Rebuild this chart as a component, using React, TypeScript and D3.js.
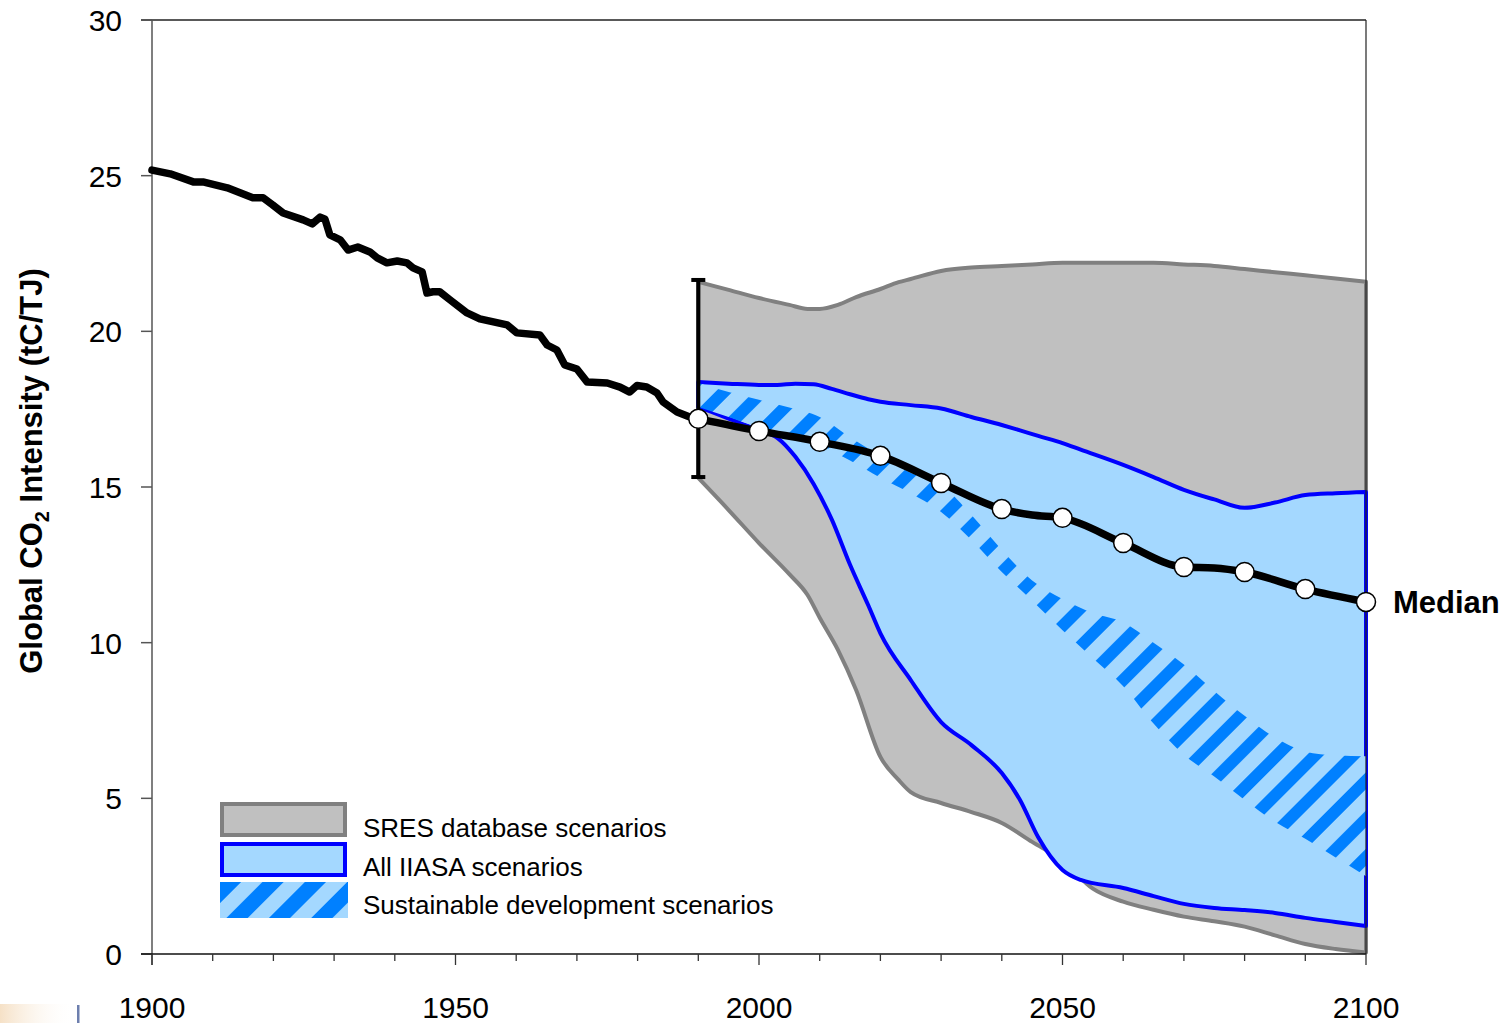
import React from 'react';
import * as d3 from 'd3';

const W = 1511;
const H = 1023;

// Axis ticks
const xMinorTicks = d3.range(1900, 2101, 10);
const xLabelYears = [1900, 1950, 2000, 2050, 2100];
const yTickValues = [0, 5, 10, 15, 20, 25, 30];

// Historical global CO2 intensity (tC/TJ), 1900-1990
const histYears = [
  1900, 1903, 1906.8, 1908.4, 1912.4, 1914.5, 1916.6, 1918.3, 1919.9, 1921.6,
  1924.9, 1926.4, 1927.7, 1928.5, 1929.3, 1931.0, 1932.3, 1933.9, 1935.9, 1937.1,
  1938.7, 1940.4, 1942.0, 1943.0, 1944.5, 1945.3, 1946.3, 1947.4, 1949.1, 1951.9,
  1954.0, 1958.5, 1960.1, 1963.9, 1965.1, 1966.7, 1968.0, 1970.0, 1971.7, 1975.0,
  1977.1, 1978.7, 1979.9, 1981.5, 1983.2, 1984.2, 1986.5, 1988.6, 1990,
];
const histValues = [
  25.18, 25.06, 24.8, 24.8, 24.61, 24.45, 24.29, 24.29, 24.06, 23.8,
  23.58, 23.45, 23.67, 23.6, 23.1, 22.94, 22.61, 22.71, 22.55, 22.36,
  22.2, 22.26, 22.2, 22.04, 21.91, 21.23, 21.27, 21.27, 21.01, 20.59,
  20.4, 20.21, 19.95, 19.88, 19.56, 19.4, 18.92, 18.79, 18.37, 18.34,
  18.21, 18.05, 18.26, 18.21, 18.02, 17.73, 17.41, 17.25, 17.19,
];

// 1990 uncertainty range
const errYear = 1990;
const errLow = 15.32;
const errHigh = 21.65;

// SRES database scenarios range
const sresYears = [
  1990, 1995, 2000, 2005, 2008, 2010, 2013, 2016, 2020, 2023, 2025, 2030, 2035,
  2040, 2045, 2050, 2055, 2060, 2065, 2070, 2075, 2080, 2085, 2090, 2095, 2100,
];
const sresUpper = [
  21.59, 21.33, 21.07, 20.85, 20.72, 20.72, 20.85, 21.1, 21.36, 21.58, 21.68, 21.94, 22.05,
  22.1, 22.15, 22.2, 22.2, 22.2, 22.2, 22.15, 22.1, 22.0, 21.9, 21.8, 21.7, 21.59,
];
const sresLower = [
  15.29, 14.26, 13.2, 12.2, 11.53, 10.8, 9.77, 8.48, 6.33, 5.59, 5.2, 4.85, 4.56,
  4.21, 3.6, 3.0, 2.1, 1.68, 1.42, 1.2, 1.05, 0.88, 0.6, 0.32, 0.16, 0.05,
];

// All IIASA scenarios range
const iiasaYears = [
  1990, 1995, 2000, 2003, 2006, 2009, 2012, 2015, 2018, 2020, 2025, 2030, 2035,
  2040, 2043, 2046, 2050, 2053, 2060, 2065, 2070, 2075, 2080, 2085, 2090, 2095, 2100,
];
const iiasaUpper = [
  18.37, 18.32, 18.28, 18.28, 18.32, 18.3, 18.15, 17.98, 17.82, 17.74, 17.63, 17.52, 17.25,
  16.99, 16.82, 16.64, 16.41, 16.2, 15.71, 15.32, 14.91, 14.6, 14.33, 14.5, 14.74, 14.8, 14.84,
];
const iiasaLower = [
  17.57, 17.2, 16.83, 16.58, 15.97, 15.1, 13.95, 12.5, 11.2, 10.3, 8.8, 7.45, 6.71,
  5.81, 4.95, 3.75, 2.7, 2.38, 2.12, 1.86, 1.61, 1.48, 1.41, 1.32, 1.16, 1.03, 0.9,
];

// Sustainable development scenarios range
const sdYears = [
  1990, 1995, 2000, 2005, 2010, 2015, 2020, 2025, 2030, 2035, 2040, 2045,
  2050, 2055, 2060, 2065, 2070, 2075, 2080, 2085, 2090, 2095, 2100,
];
const sdUpper = [
  18.34, 18.05, 17.8, 17.55, 17.25, 16.6, 16.0, 15.45, 15.07, 14.1, 12.98, 12.0,
  11.4, 10.95, 10.65, 10.0, 9.3, 8.45, 7.65, 6.95, 6.5, 6.38, 6.35,
];
const sdLower = [
  17.57, 17.25, 16.9, 16.6, 16.35, 15.85, 15.3, 14.8, 14.2, 13.3, 12.27, 11.35,
  10.4, 9.5, 8.6, 7.4, 6.4, 5.7, 4.95, 4.25, 3.7, 3.1, 2.5,
];

// Median of scenarios
const medianYears = [1990, 2000, 2010, 2020, 2030, 2040, 2045, 2050, 2060, 2070, 2075, 2080, 2090, 2100];
const medianValues = [17.19, 16.8, 16.45, 16.0, 15.13, 14.29, 14.1, 14.01, 13.2, 12.43, 12.4, 12.27, 11.72, 11.31];

const legendLabels = ['SRES database scenarios', 'All IIASA scenarios', 'Sustainable development scenarios'];

const GRAY_FILL = '#C0C0C0';
const GRAY_LINE = '#808080';
const LIGHT_BLUE = '#A4D8FF';
const BLUE = '#0000FF';
const HATCH = '#0080FF';
const FONT = '"Liberation Sans", Arial, Helvetica, sans-serif';

export default function App() {
  const x = d3.scaleLinear().domain([1900, 2100]).range([152, 1366]);
  const y = d3.scaleLinear().domain([0, 30]).range([954, 20]);

  const band = (years: number[], lo: number[], hi: number[]) =>
    d3
      .area<number>()
      .x((d) => x(years[d]))
      .y0((d) => y(lo[d]))
      .y1((d) => y(hi[d]))
      .curve(d3.curveMonotoneX)(d3.range(years.length)) as string;

  const line = (years: number[], vals: number[], curve = d3.curveLinear) =>
    d3
      .line<number>()
      .x((d) => x(years[d]))
      .y((d) => y(vals[d]))
      .curve(curve)(d3.range(years.length)) as string;

  const sresPath = band(sresYears, sresLower, sresUpper);
  const iiasaPath = band(iiasaYears, iiasaLower, iiasaUpper);
  const sdPath = band(sdYears, sdLower, sdUpper);
  const histPath = line(histYears, histValues);
  const medianPath = line(medianYears, medianValues, d3.curveMonotoneX);
  const markerIdx = d3.range(medianYears.length).filter((i) => medianYears[i] % 10 === 0);

  const [x0, x1] = x.range();
  const [yb, yt] = y.range();

  return (
    <svg
      width={W}
      height={H}
      style={{ position: 'absolute', left: 0, top: 0, background: '#fff' }}
      fontFamily={FONT}
    >
      <defs>
        <pattern id="sdHatch" patternUnits="userSpaceOnUse" width={27} height={27} patternTransform="rotate(45)">
          <rect width={27} height={27} fill={LIGHT_BLUE} />
          <rect width={12} height={27} fill={HATCH} />
        </pattern>
        <pattern id="sdHatchKey" patternUnits="userSpaceOnUse" width={30} height={30} patternTransform="translate(220,882) rotate(45)">
          <rect width={30} height={30} fill={LIGHT_BLUE} />
          <rect width={15} height={30} fill={HATCH} />
        </pattern>
        <linearGradient id="cornerHaze" x1="0" x2="1" y1="0" y2="0">
          <stop offset="0" stopColor="#f3d9b8" stopOpacity={0.8} />
          <stop offset="1" stopColor="#ffffff" stopOpacity={0} />
        </linearGradient>
      </defs>

      {/* frame: top edge */}
      <line x1={141} x2={x1} y1={yt} y2={yt} stroke="#222" strokeWidth={1.5} />

      {/* scenario ranges */}
      <path d={sresPath} fill={GRAY_FILL} stroke={GRAY_LINE} strokeWidth={4} strokeLinejoin="round" />
      <path d={iiasaPath} fill={LIGHT_BLUE} stroke={BLUE} strokeWidth={4} strokeLinejoin="round" />
      <path d={sdPath} fill="url(#sdHatch)" />

      {/* frame: right edge */}
      <line x1={x1} x2={x1} y1={yt} y2={yb} stroke="#222" strokeWidth={1.2} />

      {/* y axis */}
      <line x1={x0} x2={x0} y1={yt} y2={yb + 11} stroke="#555" strokeWidth={1.5} />
      {yTickValues.map((v) => (
        <g key={v}>
          <line x1={141} x2={x0} y1={y(v)} y2={y(v)} stroke="#555" strokeWidth={1.5} />
          <text x={122} y={y(v) + 11} textAnchor="end" fontSize={30} fill="#000">
            {v}
          </text>
        </g>
      ))}

      {/* x axis */}
      <line x1={141} x2={x1} y1={yb} y2={yb} stroke="#111" strokeWidth={1.5} />
      {xMinorTicks.map((t) => (
        <line
          key={t}
          x1={x(t)}
          x2={x(t)}
          y1={yb}
          y2={yb + (t % 50 === 0 ? 11 : 7)}
          stroke="#333"
          strokeWidth={1.3}
        />
      ))}
      {xLabelYears.map((t) => (
        <text key={t} x={x(t)} y={1018} textAnchor="middle" fontSize={30} fill="#000">
          {t}
        </text>
      ))}

      {/* axis title */}
      <text transform="translate(42,471) rotate(-90)" textAnchor="middle" fontSize={31} fontWeight="bold" fill="#000">
        Global CO
        <tspan fontSize={20} dy={7}>
          2
        </tspan>
        <tspan dy={-7}> Intensity (tC/TJ)</tspan>
      </text>

      {/* historical series */}
      <path d={histPath} fill="none" stroke="#000" strokeWidth={7.5} strokeLinejoin="round" strokeLinecap="round" />

      {/* 1990 range bar */}
      <g stroke="#000" strokeWidth={4}>
        <line x1={x(errYear)} x2={x(errYear)} y1={y(errHigh)} y2={y(errLow)} />
        <line x1={x(errYear) - 7} x2={x(errYear) + 7} y1={y(errHigh)} y2={y(errHigh)} />
        <line x1={x(errYear) - 7} x2={x(errYear) + 7} y1={y(errLow)} y2={y(errLow)} />
      </g>

      {/* median */}
      <path d={medianPath} fill="none" stroke="#000" strokeWidth={7.5} strokeLinejoin="round" />
      {markerIdx.map((i) => (
        <circle
          key={medianYears[i]}
          cx={x(medianYears[i])}
          cy={y(medianValues[i])}
          r={9.5}
          fill="#fff"
          stroke="#000"
          strokeWidth={1.5}
        />
      ))}
      <text
        x={x(medianYears[medianYears.length - 1]) + 27}
        y={y(medianValues[medianValues.length - 1]) + 11}
        fontSize={31}
        fontWeight="bold"
        fill="#000"
      >
        Median
      </text>

      {/* legend */}
      <rect x={222} y={804} width={123} height={31} fill={GRAY_FILL} stroke={GRAY_LINE} strokeWidth={4} />
      <rect x={222} y={844} width={123} height={31} fill={LIGHT_BLUE} stroke={BLUE} strokeWidth={4} />
      <rect x={220} y={882} width={128} height={36} fill="url(#sdHatchKey)" />
      {legendLabels.map((label, i) => (
        <text key={label} x={363} y={837 + i * 38.5} fontSize={26} fill="#000">
          {label}
        </text>
      ))}

      {/* corner edge of the page */}
      <rect x={0} y={1004} width={75} height={19} fill="url(#cornerHaze)" />
      <rect x={77} y={1005} width={2.5} height={18} fill="#6d7fae" />
    </svg>
  );
}
